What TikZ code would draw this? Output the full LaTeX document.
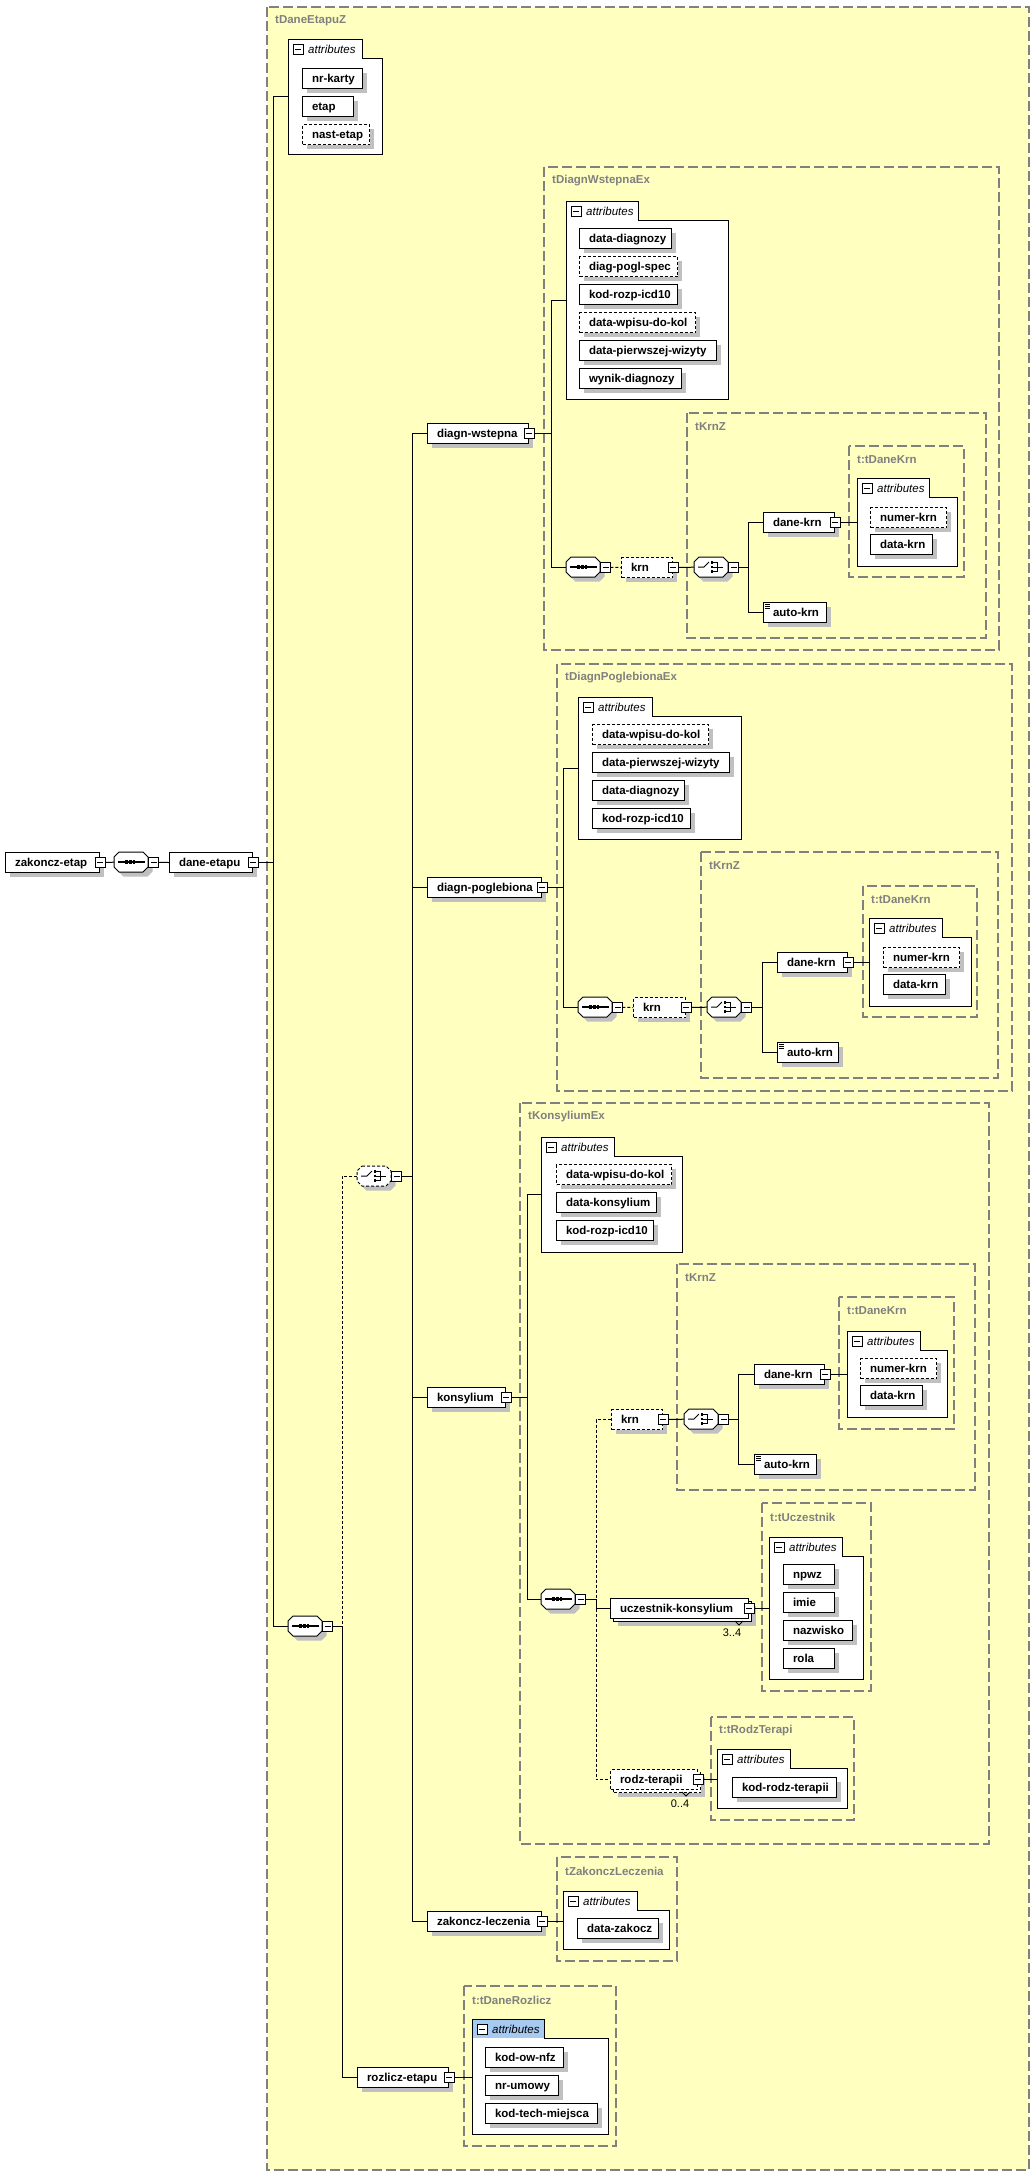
\documentclass[tikz,border=0pt]{standalone}
\usepackage{fontspec}
\setmainfont{Liberation Sans}
\usetikzlibrary{shadows}
\definecolor{bgyellow}{RGB}{255,255,192}
\definecolor{typegray}{RGB}{128,128,128}
\definecolor{shgray}{RGB}{192,192,192}
\definecolor{tabblue}{RGB}{166,202,240}
\newcommand\elfont{\bfseries\fontsize{11.5}{13}\selectfont}
\tikzset{
 elbase/.style={draw=black, fill=white, line width=1pt, inner xsep=0pt, inner ysep=0pt, minimum height=20pt, text height=8.5pt, text depth=1.5pt, anchor=north west, font=\elfont},
 elbox/.style={elbase, drop shadow={shadow xshift=4.5pt, shadow yshift=-4.5pt, fill=shgray, draw=none, opacity=1}},
 optdash/.style={dash pattern=on 3pt off 2pt},
 typebox/.style={draw=typegray, line width=1.3pt, dash pattern=on 10pt off 4pt},
 typelabel/.style={text=typegray, font=\elfont, anchor=west, inner sep=0pt},
 conn/.style={draw=black, line width=1pt},
 optconn/.style={conn, dash pattern=on 3pt off 2pt},
 btn/.style={draw=black, fill=white, line width=0.9pt, minimum size=10pt, inner sep=0pt, path picture={\draw[line width=0.9pt] ([xshift=2pt]path picture bounding box.west) -- ([xshift=-2pt]path picture bounding box.east);}},
 ghost/.style={draw=none, inner sep=0pt, anchor=north west},
 multlabel/.style={font=\fontsize{11}{12}\selectfont, inner sep=0pt},
}
% element box: [style]{name}{x}{y}{width}{text}
\newcommand\elm[6][]{\node[elbox,#1] (#2) at (#3,#4) {\makebox[#5pt][l]{\hspace*{9.5pt}#6}};}
% compositor: {name}{x}{y}{seq|cho}{border style}
\newcommand\symseq{\draw[line width=1.2pt] (4,10) -- (31,10); \fill (11.3,8.4) rectangle ++(2.9,3.2); \fill (14.9,8.4) rectangle ++(2.9,3.2); \fill (18.5,8.4) rectangle ++(2.9,3.2);}
\newcommand\symcho{\draw[line width=1pt] (4,10) -- (10,10) -- (15,5); \fill (16.5,4.3) rectangle ++(2.6,2.6); \fill (16.5,8.7) rectangle ++(2.6,2.6); \fill (16.5,13.1) rectangle ++(2.6,2.6); \draw[line width=0.9pt] (19,5.6) -- (23,5.6) -- (23,14.4) -- (19,14.4); \draw[line width=1pt] (19,10) -- (29,10);}
\newcommand\compo[5]{%
 \fill[shgray] ({#2+9.5},{#3+4.5}) -- ({#2+33.5},{#3+4.5}) -- ({#2+38.5},{#3+9.5}) -- ({#2+38.5},{#3+19.5}) -- ({#2+33.5},{#3+24.5}) -- ({#2+9.5},{#3+24.5}) -- ({#2+4.5},{#3+19.5}) -- ({#2+4.5},{#3+9.5}) -- cycle;
 \node[ghost, minimum width=34pt, minimum height=20pt] (#1) at (#2,#3) {};
 \draw[fill=white, line width=1pt, #5] ({#2+5},#3) -- ({#2+29},#3) -- ({#2+34},{#3+5}) -- ({#2+34},{#3+15}) -- ({#2+29},{#3+20}) -- ({#2+5},{#3+20}) -- (#2,{#3+15}) -- (#2,{#3+5}) -- cycle;
 \begin{scope}[shift={(#2,#3)}]\csname sym#4\endcsname\end{scope}}
% attribute group: {name}{x}{ytop}{xright}{ybottom}{tabw}{tabfill}
\newcommand\attgrp[7]{%
 \node[ghost, minimum width={(#4-#2)*1pt}, minimum height={(#5-#3)*1pt}] (#1) at (#2,#3) {};
 \fill[white] (#2,#3) -- ({#2+#6},#3) -- ({#2+#6},{#3+19}) -- (#4,{#3+19}) -- (#4,#5) -- (#2,#5) -- cycle;
 \fill[#7] (#2,#3) rectangle ({#2+#6},{#3+19});
 \draw[line width=1pt] (#2,#3) -- ({#2+#6},#3) -- ({#2+#6},{#3+19}) -- (#4,{#3+19}) -- (#4,#5) -- (#2,#5) -- cycle;
 \node[btn, anchor=north west] (#1m) at ({#2+5},{#3+5}) {};
 \node[anchor=west, inner sep=0pt, font=\itshape\fontsize{11.5}{13}\selectfont] (#1t) at ({#2+20},{#3+10}) {attributes};}
% type box: {name}{x1}{y1}{x2}{y2}{label}
\newcommand\typbox[6]{\draw[typebox] (#2,#3) rectangle (#4,#5); \node[typelabel] (#1) at ({#2+8},{#3+14}) {#6};}

\begin{document}
\begin{tikzpicture}[x=1pt,y=-1pt]
\useasboundingbox (0,0) rectangle (1035,2180);
\fill[white] (0,0) rectangle (1035,2180);
\filldraw[typebox, fill=bgyellow] (267,7) rectangle (1029,2170);
\node[typelabel] (tDEZ) at (275,21) {tDaneEtapuZ};

\typbox{tA1}{544}{167}{999}{650}{tDiagnWstepnaEx}
\typbox{tK1}{687}{413}{986}{638}{tKrnZ}
\typbox{tD1}{849}{446}{964}{577}{t:tDaneKrn}
\typbox{tA2}{557}{664}{1012}{1091}{tDiagnPoglebionaEx}
\typbox{tK2}{701}{852}{998}{1078}{tKrnZ}
\typbox{tD2}{863}{886}{977}{1017}{t:tDaneKrn}
\typbox{tA3}{520}{1103}{989}{1844}{tKonsyliumEx}
\typbox{tK3}{677}{1264}{975}{1490}{tKrnZ}
\typbox{tD3}{839}{1297}{954}{1429}{t:tDaneKrn}
\typbox{tU}{762}{1503}{871}{1691}{t:tUczestnik}
\typbox{tR}{711}{1717}{854}{1820}{t:tRodzTerapi}
\typbox{tZ}{557}{1857}{677}{1961}{tZakonczLeczenia}
\typbox{tDR}{464}{1986}{616}{2146}{t:tDaneRozlicz}

% top chain
\elm{zk}{5}{852}{94}{zakoncz-etap}
\compo{s0}{114}{852}{seq}{}
\elm{de}{169}{852}{83}{dane-etapu}

\attgrp{A0}{288}{39}{382}{154}{74}{white}
\elm{a0a}{302}{68}{60}{nr-karty}
\elm{a0b}{302}{96}{51}{etap}
\elm[optdash]{a0c}{302}{124}{67}{nast-etap}

\compo{s1}{288}{1616}{seq}{}
\compo{c1}{357}{1166}{cho}{optdash}
\elm{re}{357}{2067}{91}{rozlicz-etapu}

\elm{dw}{427}{423}{101}{diagn-wstepna}
\elm{dp}{427}{877}{114}{diagn-poglebiona}
\elm{ko}{427}{1387}{78}{konsylium}
\elm{zl}{427}{1911}{114}{zakoncz-leczenia}

% tDiagnWstepnaEx
\attgrp{A1}{566}{201}{728}{399}{72}{white}
\elm{a1a}{579}{228}{92}{data-diagnozy}
\elm[optdash]{a1b}{579}{256}{98}{diag-pogl-spec}
\elm{a1c}{579}{284}{98}{kod-rozp-icd10}
\elm[optdash]{a1d}{579}{312}{116}{data-wpisu-do-kol}
\elm{a1e}{579}{340}{137}{data-pierwszej-wizyty}
\elm{a1f}{579}{368}{102}{wynik-diagnozy}
\compo{s2}{566}{557}{seq}{}
\elm[optdash]{k1}{621}{557}{51}{krn}
\compo{c2}{694}{557}{cho}{}
\elm{dk1}{763}{512}{71}{dane-krn}
\elm{ak1}{763}{602}{63}{auto-krn}
\attgrp{K1}{857}{478}{957}{566}{72}{white}
\elm[optdash]{nk1}{870}{507}{76}{numer-krn}
\elm{dt1}{870}{534}{62}{data-krn}

% tDiagnPoglebionaEx
\attgrp{A2}{578}{697}{741}{839}{74}{white}
\elm[optdash]{a2a}{592}{724}{116}{data-wpisu-do-kol}
\elm{a2b}{592}{752}{137}{data-pierwszej-wizyty}
\elm{a2c}{592}{780}{92}{data-diagnozy}
\elm{a2d}{592}{808}{98}{kod-rozp-icd10}
\compo{s3}{578}{997}{seq}{}
\elm[optdash]{k2}{633}{997}{52}{krn}
\compo{c3}{707}{997}{cho}{}
\elm{dk2}{777}{952}{70}{dane-krn}
\elm{ak2}{777}{1042}{61}{auto-krn}
\attgrp{K2}{869}{918}{971}{1006}{73}{white}
\elm[optdash]{nk2}{883}{947}{76}{numer-krn}
\elm{dt2}{883}{974}{62}{data-krn}

% tKonsyliumEx
\attgrp{A3}{541}{1137}{682}{1252}{73}{white}
\elm[optdash]{a3a}{556}{1164}{115}{data-wpisu-do-kol}
\elm{a3b}{556}{1192}{100}{data-konsylium}
\elm{a3c}{556}{1220}{97}{kod-rozp-icd10}
\compo{s4}{541}{1589}{seq}{}
\elm[optdash]{k3}{611}{1409}{51}{krn}
\compo{c4}{684}{1409}{cho}{}
\elm{dk3}{754}{1364}{70}{dane-krn}
\elm{ak3}{754}{1454}{62}{auto-krn}
\attgrp{K3}{847}{1331}{947}{1417}{73}{white}
\elm[optdash]{nk3}{860}{1358}{76}{numer-krn}
\elm{dt3}{860}{1385}{62}{data-krn}

\node[elbox] (ucbk) at (613,1601) {\makebox[138pt]{}};
\node[elbase] (uc) at (610,1598) {\makebox[138pt][l]{\hspace*{9.5pt}uczestnik-konsylium}};
\attgrp{U}{769}{1537}{863}{1679}{73}{white}
\elm{u1}{783}{1564}{51}{npwz}
\elm{u2}{783}{1592}{51}{imie}
\elm{u3}{783}{1620}{69}{nazwisko}
\elm{u4}{783}{1648}{51}{rola}

\node[elbox, optdash] (rtbk) at (613,1772) {\makebox[87pt]{}};
\node[elbase, optdash] (rt) at (610,1769) {\makebox[87pt][l]{\hspace*{9.5pt}rodz-terapii}};
\attgrp{R}{717}{1749}{847}{1808}{73}{white}
\elm{kr}{732}{1777}{104}{kod-rodz-terapii}

\node[multlabel] (m1) at (732,1633) {3..4};
\node[multlabel] (m2) at (680,1804) {0..4};
\draw[line width=0.8pt] (735,1621) -- (739,1625) -- (743,1621);
\draw[line width=0.8pt] (682,1792) -- (686,1796) -- (690,1792);

% tZakonczLeczenia
\attgrp{Z}{563}{1891}{669}{1949}{74}{white}
\elm{dz}{577}{1918}{81}{data-zakocz}

% t:tDaneRozlicz
\attgrp{D}{472}{2019}{608}{2134}{72}{tabblue}
\elm{d1}{485}{2047}{78}{kod-ow-nfz}
\elm{d2}{485}{2075}{73}{nr-umowy}
\elm{d3}{485}{2103}{112}{kod-tech-miejsca}

% auto-krn icons
\foreach \n in {ak1,ak2,ak3}{
 \draw[line width=0.7pt] ([shift={(2,2)}]\n.north west) -- ++(5,0);
 \draw[line width=0.7pt] ([shift={(2,4)}]\n.north west) -- ++(5,0);
 \draw[line width=0.7pt] ([shift={(2,6)}]\n.north west) -- ++(5,0);
}

% trunk x positions
\coordinate (T0) at (273,0);
\coordinate (T1) at (342,0);
\coordinate (T2) at (412,0);
\coordinate (T3) at (551,0);
\coordinate (T4) at (748,0);
\coordinate (T5) at (563,0);
\coordinate (T6) at (762,0);
\coordinate (T7) at (527,0);
\coordinate (T8) at (596,0);
\coordinate (T9) at (738,0);

% connectors
\draw[conn] (zk.east) -- (s0.west);
\draw[conn] (s0.east) -- (de.west);
\draw[conn] (de.east) -- (de.east -| T0);
\draw[conn] (A0.west) -| (s1.west -| T0) -- (s1.west);
\draw[conn] (s1.east) -- (s1.east -| T1) |- (re.west);
\draw[optconn] (c1.west) -| (s1.east -| T1);
\draw[conn] (c1.east) -- (c1.east -| T2);
\draw[conn] (dw.west) -| (zl.west -| T2) -- (zl.west);
\draw[conn] (dp.west) -- (dp.west -| T2);
\draw[conn] (ko.west) -- (ko.west -| T2);

\draw[conn] (dw.east) -- (dw.east -| T3);
\draw[conn] (A1.west) -| (s2.west -| T3) -- (s2.west);
\draw[optconn] (s2.east) -- (k1.west);
\draw[conn] (k1.east) -- (c2.west);
\draw[conn] (c2.east) -- (c2.east -| T4);
\draw[conn] (dk1.west) -| (ak1.west -| T4) -- (ak1.west);
\draw[conn] (dk1.east) -- (dk1.east -| K1.west);

\draw[conn] (dp.east) -- (dp.east -| T5);
\draw[conn] (A2.west) -| (s3.west -| T5) -- (s3.west);
\draw[optconn] (s3.east) -- (k2.west);
\draw[conn] (k2.east) -- (c3.west);
\draw[conn] (c3.east) -- (c3.east -| T6);
\draw[conn] (dk2.west) -| (ak2.west -| T6) -- (ak2.west);
\draw[conn] (dk2.east) -- (dk2.east -| K2.west);

\draw[conn] (ko.east) -- (ko.east -| T7);
\draw[conn] (A3.west) -| (s4.west -| T7) -- (s4.west);
\draw[conn] (s4.east) -- (s4.east -| T8) |- (uc.west);
\draw[optconn] (k3.west) -| (s4.east -| T8);
\draw[optconn] (uc.west -| T8) |- (rt.west);
\draw[conn] (k3.east) -- (c4.west);
\draw[conn] (c4.east) -- (c4.east -| T9);
\draw[conn] (dk3.west) -| (ak3.west -| T9) -- (ak3.west);
\draw[conn] (dk3.east) -- (dk3.east -| K3.west);
\draw[conn] (uc.east) -- (uc.east -| U.west);
\draw[conn] (rt.east) -- (rt.east -| R.west);
\draw[conn] (zl.east) -- (zl.east -| Z.west);
\draw[conn] (re.east) -- (re.east -| D.west);

% collapse buttons
\foreach \n in {zk,de,re,dw,dp,ko,zl,k1,dk1,k2,dk2,k3,dk3,uc,rt}{\node[btn] (\n-b) at (\n.east) {};}
\foreach \n in {s0,s1,c1,s2,c2,s3,c3,s4,c4}{\node[btn, anchor=west] (\n-b) at (\n.east) {};}
\end{tikzpicture}
\end{document}
